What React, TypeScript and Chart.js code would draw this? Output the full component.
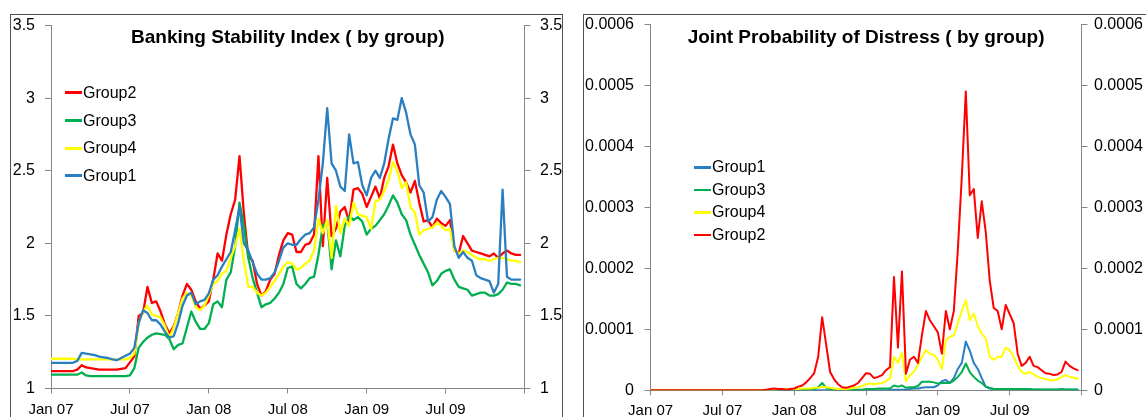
import React, { useEffect, useRef } from "react";
import { Chart, registerables } from "chart.js";

Chart.register(...registerables);

// ~10-day sampling (3 points per month), Jan 2007 -> Dec 2009
const SAMPLES_PER_MONTH = 3;
const X_MAX_MONTHS = 36;
const X_TICK_STEP = 6;
const X_TICK_LABELS = ["Jan 07", "Jul 07", "Jan 08", "Jul 08", "Jan 09", "Jul 09", ""];

// ---------- Banking Stability Index (by group) ----------
const BSI_GROUP2 = [
  1.12, 1.12, 1.12, 1.12, 1.12, 1.12, 1.13, 1.16, 1.145, 1.14, 1.135, 1.13,
  1.13, 1.13, 1.13, 1.13, 1.135, 1.14, 1.18, 1.22, 1.5, 1.52, 1.7, 1.59,
  1.6, 1.53, 1.44, 1.38, 1.43, 1.52, 1.64, 1.72, 1.68, 1.6, 1.55, 1.57,
  1.6, 1.75, 1.93, 1.88, 2.06, 2.2, 2.3, 2.6, 2.2, 1.91, 1.88, 1.72,
  1.64, 1.67, 1.75, 1.79, 1.92, 2.02, 2.07, 2.06, 1.94, 1.94, 1.99, 2.0,
  2.06, 2.6, 1.98, 2.45, 2.05, 2.1, 2.22, 2.25, 2.15, 2.37, 2.38, 2.34,
  2.25, 2.32, 2.39, 2.31, 2.45, 2.53, 2.68, 2.55, 2.47, 2.42, 2.35, 2.43,
  2.28, 2.15, 2.16, 2.11, 2.17, 2.14, 2.12, 2.16, 1.95, 1.93, 2.05, 2.0,
  1.95, 1.94, 1.93, 1.92, 1.91, 1.93, 1.9, 1.93, 1.95, 1.93, 1.92, 1.92,
];
const BSI_GROUP3 = [
  1.095, 1.095, 1.095, 1.095, 1.095, 1.095, 1.095, 1.11, 1.09, 1.085, 1.085, 1.085,
  1.085, 1.085, 1.085, 1.085, 1.085, 1.085, 1.09, 1.14, 1.28, 1.32, 1.35, 1.37,
  1.38, 1.375, 1.37, 1.34, 1.27, 1.3, 1.31, 1.42, 1.53, 1.46, 1.41, 1.41,
  1.45, 1.58, 1.6, 1.56, 1.75, 1.8, 1.98, 2.28, 2.12, 1.9, 1.76, 1.66,
  1.56, 1.58, 1.59, 1.62, 1.66, 1.72, 1.83, 1.84, 1.72, 1.69, 1.72, 1.76,
  1.77, 1.92, 2.12, 2.15, 1.82, 2.02, 1.91, 2.12, 2.19, 2.16, 2.18, 2.15,
  2.06, 2.1, 2.12, 2.16, 2.2, 2.26, 2.33, 2.28, 2.2, 2.16, 2.06, 1.99,
  1.92, 1.86, 1.8, 1.71, 1.74, 1.79, 1.81, 1.82, 1.75, 1.7, 1.69, 1.68,
  1.64, 1.65, 1.66, 1.66, 1.64, 1.64, 1.65, 1.68, 1.73, 1.72, 1.72, 1.71,
];
const BSI_GROUP4 = [
  1.205, 1.205, 1.205, 1.205, 1.205, 1.205, 1.2, 1.2, 1.2, 1.2, 1.2, 1.2,
  1.2, 1.2, 1.2, 1.2, 1.2, 1.2, 1.21, 1.24, 1.45, 1.53, 1.57, 1.51,
  1.5, 1.49, 1.43, 1.35, 1.42, 1.52, 1.62, 1.66, 1.64, 1.56, 1.54, 1.57,
  1.64, 1.72, 1.74, 1.79, 1.81, 1.9, 1.98, 2.1, 1.88, 1.7, 1.7, 1.66,
  1.64, 1.66, 1.7, 1.74, 1.79, 1.84, 1.87, 1.86, 1.82, 1.83, 1.86, 1.88,
  1.95, 2.17, 2.07, 2.16, 1.9, 2.26, 2.07, 2.17, 2.12, 2.28, 2.2, 2.19,
  2.18, 2.1, 2.29, 2.3, 2.36, 2.44, 2.56, 2.5, 2.38, 2.42, 2.25, 2.21,
  2.06, 2.09, 2.1, 2.11, 2.14, 2.12, 2.09, 2.1, 1.95, 1.93, 1.95, 1.94,
  1.92, 1.9, 1.89, 1.89, 1.88, 1.89, 1.9, 1.9, 1.89, 1.88, 1.88, 1.87,
];
const BSI_GROUP1 = [
  1.177, 1.177, 1.177, 1.177, 1.177, 1.177, 1.19, 1.245, 1.24, 1.235, 1.23, 1.22,
  1.215, 1.21, 1.2, 1.195, 1.21, 1.225, 1.24, 1.28, 1.45, 1.54, 1.52, 1.47,
  1.47, 1.44, 1.39, 1.35, 1.36, 1.45, 1.57, 1.64, 1.66, 1.58, 1.6, 1.61,
  1.655, 1.75, 1.78, 1.84, 1.89, 1.94, 2.09, 2.25, 2.0, 1.95, 1.87, 1.79,
  1.75, 1.75, 1.76, 1.8, 1.88, 1.97, 2.0, 1.99, 1.99, 2.03, 2.06, 2.07,
  2.11, 2.3, 2.55, 2.93, 2.55, 2.5, 2.39, 2.36, 2.75, 2.55, 2.56, 2.4,
  2.33, 2.45, 2.5, 2.45, 2.55, 2.72, 2.86, 2.85, 3.0, 2.9, 2.75, 2.68,
  2.4, 2.35, 2.15, 2.18, 2.3, 2.36, 2.32, 2.27, 1.98, 1.9, 1.94, 1.9,
  1.88, 1.78, 1.76, 1.75, 1.74, 1.66, 1.72, 2.37, 1.77, 1.75, 1.75, 1.75,
];

// ---------- Joint Probability of Distress (by group), in units of 1e-4 ----------
const JPOD_UNIT = 1e-4;
const JPOD_GROUP1 = [
  0, 0, 0, 0, 0, 0, 0, 0, 0, 0, 0, 0,
  0, 0, 0, 0, 0, 0, 0, 0, 0, 0, 0, 0,
  0, 0, 0, 0, 0, 0, 0, 0, 0, 0, 0, 0,
  0, 0, 0, 0, 0, 0, 0, 0, 0, 0, 0, 0,
  0, 0, 0, 0, 0, 0, 0, 0, 0, 0, 0, 0,
  0.01, 0.01, 0.01, 0.01, 0.01, 0.02, 0.03, 0.03, 0.04, 0.05, 0.05, 0.05,
  0.08, 0.15, 0.17, 0.12, 0.2, 0.35, 0.45, 0.8, 0.65, 0.45, 0.35, 0.2,
  0.06, 0.03, 0.02, 0.02, 0.02, 0.02, 0.01, 0.01, 0.01, 0.01, 0.01, 0.01,
  0.01, 0.01, 0.01, 0.01, 0.01, 0.01, 0.01, 0.02, 0.01, 0.01, 0.01, 0.01,
];
const JPOD_GROUP3 = [
  0, 0, 0, 0, 0, 0, 0, 0, 0, 0, 0, 0,
  0, 0, 0, 0, 0, 0, 0, 0, 0, 0, 0, 0,
  0, 0, 0, 0, 0, 0, 0, 0, 0, 0, 0, 0,
  0.01, 0.01, 0.01, 0.01, 0.01, 0.02, 0.05, 0.12, 0.04, 0.02, 0.01, 0.01,
  0.01, 0.01, 0.01, 0.01, 0.01, 0.01, 0.02, 0.02, 0.02, 0.03, 0.03, 0.03,
  0.03, 0.08, 0.06, 0.08, 0.04, 0.05, 0.05, 0.07, 0.14, 0.14, 0.14, 0.13,
  0.11, 0.12, 0.12, 0.12, 0.16, 0.22, 0.3, 0.44, 0.3, 0.22, 0.16, 0.12,
  0.06, 0.04, 0.02, 0.02, 0.02, 0.02, 0.02, 0.02, 0.02, 0.02, 0.02, 0.02,
  0.015, 0.015, 0.015, 0.015, 0.015, 0.015, 0.015, 0.015, 0.015, 0.015, 0.015, 0.015,
];
const JPOD_GROUP4 = [
  0, 0, 0, 0, 0, 0, 0, 0, 0, 0, 0, 0,
  0, 0, 0, 0, 0, 0, 0, 0, 0, 0, 0, 0,
  0, 0, 0, 0, 0, 0, 0.01, 0.01, 0.02, 0.02, 0.02, 0.02,
  0.02, 0.02, 0.03, 0.03, 0.03, 0.04, 0.04, 0.06, 0.05, 0.04, 0.03, 0.02,
  0.02, 0.02, 0.03, 0.04, 0.05, 0.07, 0.1, 0.11, 0.1, 0.11, 0.12, 0.15,
  0.2, 0.55, 0.45, 0.62, 0.15, 0.25, 0.3, 0.42, 0.55, 0.66, 0.6, 0.58,
  0.5, 0.35, 0.82, 0.88, 0.9, 1.1, 1.3, 1.48, 1.15, 1.26, 1.05, 0.93,
  0.85, 0.55, 0.5, 0.55, 0.55, 0.7, 0.66, 0.55, 0.4, 0.3, 0.27, 0.3,
  0.26, 0.22, 0.2, 0.18, 0.17, 0.16, 0.18, 0.22, 0.25, 0.22, 0.21, 0.19,
];
const JPOD_GROUP2 = [
  0, 0, 0, 0, 0, 0, 0, 0, 0, 0, 0, 0,
  0, 0, 0, 0, 0, 0, 0, 0, 0, 0, 0, 0,
  0, 0, 0, 0, 0, 0.01, 0.02, 0.03, 0.02, 0.02, 0.01, 0.02,
  0.03, 0.06, 0.08, 0.13, 0.2, 0.28, 0.55, 1.2, 0.75, 0.3, 0.18, 0.1,
  0.05, 0.04, 0.06, 0.08, 0.12, 0.2, 0.28, 0.27, 0.2, 0.22, 0.25, 0.33,
  0.38, 1.86, 0.7, 1.95, 0.27, 0.5, 0.55, 0.45, 0.9, 1.3, 1.15, 1.05,
  0.95, 0.6, 1.3, 1.0, 1.3, 2.3, 3.5, 4.9, 3.2, 3.3, 2.5, 3.1,
  2.6, 1.8, 1.35, 1.3, 1.0, 1.4, 1.25, 1.1, 0.6, 0.4, 0.45, 0.55,
  0.4, 0.38, 0.33, 0.28, 0.27, 0.25, 0.26, 0.3, 0.47, 0.4, 0.36, 0.33,
];

const COLORS = {
  Group1: "#2A7FC1",
  Group2: "#FF0000",
  Group3: "#00B050",
  Group4: "#FFFF00",
};

const FONT = '"Liberation Sans", Arial, Helvetica, sans-serif';
const AXIS_COLOR = "#868686";

function toPoints(vals: number[], unit = 1) {
  return vals.map((v, i) => ({ x: i / SAMPLES_PER_MONTH, y: v * unit }));
}

type Layout = {
  padTop: number;
  yLeftWidth: number;
  yRightWidth: number;
  xHeight: number;
  yLeftPad: number;
  yRightPad: number;
};

function buildOptions(
  yMin: number,
  yMax: number,
  yStep: number,
  fmt: (v: number) => string,
  L: Layout
): any {
  const yCommon = (position: "left" | "right", width: number, pad: number) => ({
    type: "linear",
    position,
    display: true,
    min: yMin,
    max: yMax,
    afterFit: (s: any) => {
      s.width = width;
      s.paddingTop = 0;
      s.paddingBottom = 0;
    },
    grid: { drawOnChartArea: false, drawTicks: true, tickLength: 6, color: AXIS_COLOR, lineWidth: 1 },
    border: { display: true, color: AXIS_COLOR, width: 1 },
    ticks: {
      stepSize: yStep,
      color: "#000",
      padding: pad,
      font: { family: FONT, size: 16 },
      callback: (v: any) => fmt(Number(v)),
    },
  });
  return {
    responsive: false,
    animation: false,
    events: [],
    layout: { padding: { top: L.padTop, left: 0, right: 0, bottom: 0 } },
    plugins: { legend: { display: false }, tooltip: { enabled: false }, title: { display: false } },
    elements: { point: { radius: 0 }, line: { tension: 0 } },
    scales: {
      x: {
        type: "linear",
        position: "bottom",
        min: 0,
        max: X_MAX_MONTHS,
        afterFit: (s: any) => {
          s.height = L.xHeight;
          s.paddingLeft = 0;
          s.paddingRight = 0;
        },
        grid: { drawOnChartArea: false, drawTicks: true, tickLength: 5, color: AXIS_COLOR, lineWidth: 1 },
        border: { display: true, color: AXIS_COLOR, width: 1 },
        ticks: {
          stepSize: X_TICK_STEP,
          autoSkip: false,
          maxRotation: 0,
          minRotation: 0,
          color: "#000",
          padding: 7,
          font: { family: FONT, size: 15 },
          callback: (v: any) => X_TICK_LABELS[Math.round(Number(v) / X_TICK_STEP)] ?? "",
        },
      },
      y: yCommon("left", L.yLeftWidth, L.yLeftPad),
      y2: yCommon("right", L.yRightWidth, L.yRightPad),
    },
  };
}

function ds(label: string, vals: number[], width: number, order: number, unit = 1) {
  return {
    label,
    data: toPoints(vals, unit),
    borderColor: COLORS[label as keyof typeof COLORS],
    backgroundColor: COLORS[label as keyof typeof COLORS],
    borderWidth: width,
    pointRadius: 0,
    fill: false,
    order,
    borderJoinStyle: "round",
    borderCapStyle: "round",
    yAxisID: "y",
  };
}

function ChartCanvas({ config, width, height }: { config: any; width: number; height: number }) {
  const ref = useRef<HTMLCanvasElement | null>(null);
  useEffect(() => {
    if (!ref.current) return;
    const chart = new Chart(ref.current, config);
    return () => chart.destroy();
  }, [config]);
  return <canvas ref={ref} width={width} height={height} style={{ width, height, display: "block" }} />;
}

function Legend({ items, left, centers }: { items: string[]; left: number; centers: number[] }) {
  return (
    <>
      {items.map((name, k) => (
        <div
          key={name}
          style={{
            position: "absolute",
            left,
            top: centers[k] - 10,
            height: 20,
            display: "flex",
            alignItems: "center",
            fontFamily: FONT,
            fontSize: 16,
            lineHeight: "20px",
            color: "#000",
            whiteSpace: "nowrap",
          }}
        >
          <div style={{ width: 17, height: 2.5, background: COLORS[name as keyof typeof COLORS] }} />
          <span style={{ marginLeft: 1 }}>{name}</span>
        </div>
      ))}
    </>
  );
}

const leftConfig = {
  type: "line",
  data: {
    datasets: [
      ds("Group2", BSI_GROUP2, 2.3, 4),
      ds("Group3", BSI_GROUP3, 2.3, 3),
      ds("Group4", BSI_GROUP4, 2.3, 2),
      ds("Group1", BSI_GROUP1, 2.3, 1),
    ],
  },
  options: buildOptions(1, 3.5, 0.5, (v) => String(Math.round(v * 10) / 10), {
    padTop: 10.5,
    yLeftWidth: 39,
    yRightWidth: 37.5,
    xHeight: 28.5,
    yLeftPad: 10,
    yRightPad: 9.5,
  }),
};

const rightConfig = {
  type: "line",
  data: {
    datasets: [
      ds("Group1", JPOD_GROUP1, 2, 4, JPOD_UNIT),
      ds("Group3", JPOD_GROUP3, 2, 3, JPOD_UNIT),
      ds("Group4", JPOD_GROUP4, 2, 2, JPOD_UNIT),
      ds("Group2", JPOD_GROUP2, 2, 1, JPOD_UNIT),
    ],
  },
  options: buildOptions(0, 0.0006, 0.0001, (v) => (Math.abs(v) < 1e-12 ? "0" : v.toFixed(4)), {
    padTop: 9.5,
    yLeftWidth: 66.6,
    yRightWidth: 64.5,
    xHeight: 26.7,
    yLeftPad: 10.6,
    yRightPad: 6.5,
  }),
};

const titleStyle: React.CSSProperties = {
  position: "absolute",
  top: 25.5,
  textAlign: "center",
  fontFamily: FONT,
  fontWeight: "bold",
  fontSize: 19,
  lineHeight: "22px",
  color: "#000",
  whiteSpace: "nowrap",
};

export default function App() {
  return (
    <div
      style={{
        position: "fixed",
        left: 0,
        top: 0,
        width: 1146,
        height: 417,
        background: "#fff",
        overflow: "hidden",
      }}
    >
      {/* Left panel */}
      <div
        style={{
          position: "absolute",
          left: 10,
          top: 14,
          width: 553,
          height: 430,
          border: "1px solid #505050",
          boxSizing: "border-box",
        }}
      />
      <div style={{ position: "absolute", left: 12, top: 15 }}>
        <ChartCanvas config={leftConfig} width={550} height={402} />
      </div>
      <div style={{ ...titleStyle, left: 51, width: 473.5 }}>Banking Stability Index ( by group)</div>
      <Legend items={["Group2", "Group3", "Group4", "Group1"]} left={65} centers={[92.7, 120.7, 148.3, 175.7]} />

      {/* Right panel */}
      <div
        style={{
          position: "absolute",
          left: 583,
          top: 14,
          width: 600,
          height: 430,
          border: "1px solid #505050",
          boxSizing: "border-box",
        }}
      />
      <div style={{ position: "absolute", left: 584, top: 15 }}>
        <ChartCanvas config={rightConfig} width={562} height={402} />
      </div>
      <div style={{ ...titleStyle, left: 650.6, width: 431 }}>Joint Probability of Distress ( by group)</div>
      <Legend items={["Group1", "Group3", "Group4", "Group2"]} left={694} centers={[167.3, 190, 212.3, 235]} />
    </div>
  );
}
